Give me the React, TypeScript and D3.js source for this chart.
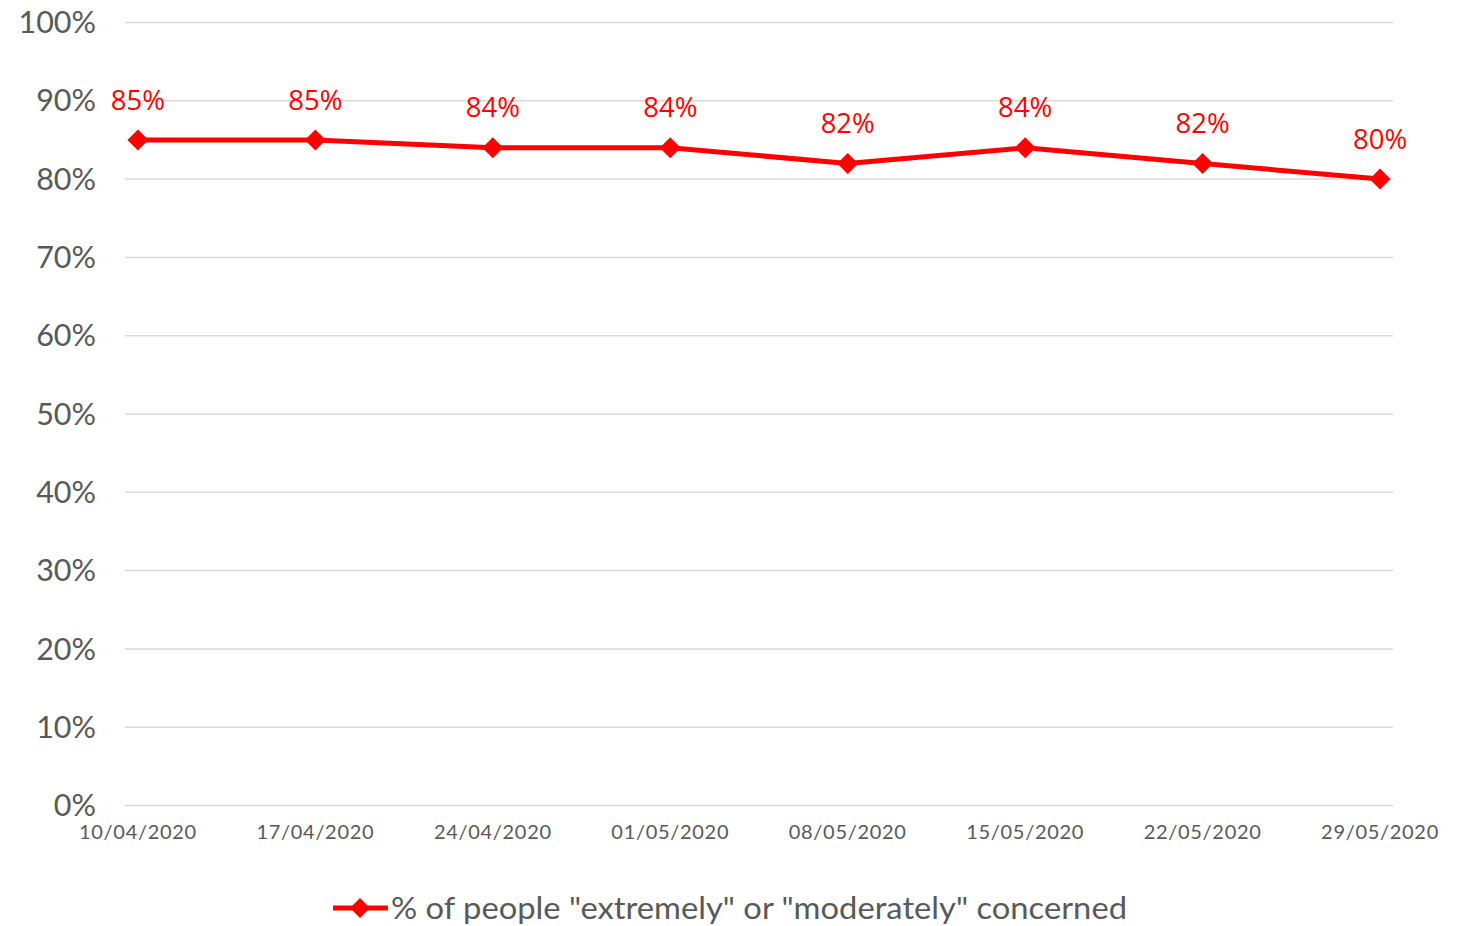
import * as d3 from 'd3'

const dates = ['10/04/2020', '17/04/2020', '24/04/2020', '01/05/2020', '08/05/2020', '15/05/2020', '22/05/2020', '29/05/2020']
const concerned = [85, 85, 84, 84, 82, 84, 82, 80]
const yTicks = [0, 10, 20, 30, 40, 50, 60, 70, 80, 90, 100]
const seriesName = '% of people "extremely" or "moderately" concerned'

const W = 1468
const H = 926
const RED = '#ff0000'
const AXIS = '#595959'
const GRID = '#d9d9d9'

function diamond(x: number, y: number, r: number) {
  return `M${x},${y - r}L${x + r},${y}L${x},${y + r}L${x - r},${y}Z`
}

export default function App() {
  const x = d3.scalePoint<string>().domain(dates).range([125, 1393]).padding(0.073)
  const y = d3.scaleLinear().domain([0, 100]).range([805.5, 22.5])

  const line = d3.line<number>()
    .x((_, i) => x(dates[i]) ?? 0)
    .y((d) => y(d))

  return (
    <svg width={W} height={H} style={{ position: 'absolute', left: 0, top: 0, background: '#fff' }}>
      {/* Grid + y labels */}
      {yTicks.map((t) => (
        <g key={t}>
          <line x1={125} x2={1393} y1={y(t)} y2={y(t)} stroke={GRID} strokeWidth={1.5} />
          <text x={96} y={y(t)} dy="0.35em" textAnchor="end"
            style={{ fontSize: 30.5, fill: AXIS, fontFamily: 'Lato, sans-serif' }}>
            {t}%
          </text>
        </g>
      ))}

      {/* X labels */}
      {dates.map((d) => (
        <text key={d} x={x(d)} y={832} dy="0.35em" textAnchor="middle"
          style={{ fontSize: 20, fill: AXIS, fontFamily: 'Lato, sans-serif', letterSpacing: 0.7 }}>
          {d}
        </text>
      ))}

      {/* Series line */}
      <path d={line(concerned) ?? ''} fill="none" stroke={RED} strokeWidth={5} strokeLinejoin="round" />
      {concerned.map((v, i) => (
        <path key={i} d={diamond(x(dates[i]) ?? 0, y(v), 10.5)} fill={RED} />
      ))}

      {/* Data labels */}
      {concerned.map((v, i) => (
        <text key={i} x={x(dates[i])} y={y(v) - 40} dy="0.35em" textAnchor="middle"
          style={{ fontSize: 27.5, fill: RED, fontFamily: '"Open Sans", sans-serif' }}>
          {v}%
        </text>
      ))}

      {/* Legend */}
      <line x1={333} x2={388} y1={908} y2={908} stroke={RED} strokeWidth={5} />
      <path d={diamond(360, 908, 10)} fill={RED} />
      <text x={391} y={908} dy="0.35em" textLength={736} lengthAdjust="spacingAndGlyphs"
        style={{ fontSize: 30, fill: AXIS, fontFamily: 'Lato, sans-serif' }}>
        {seriesName}
      </text>
    </svg>
  )
}
